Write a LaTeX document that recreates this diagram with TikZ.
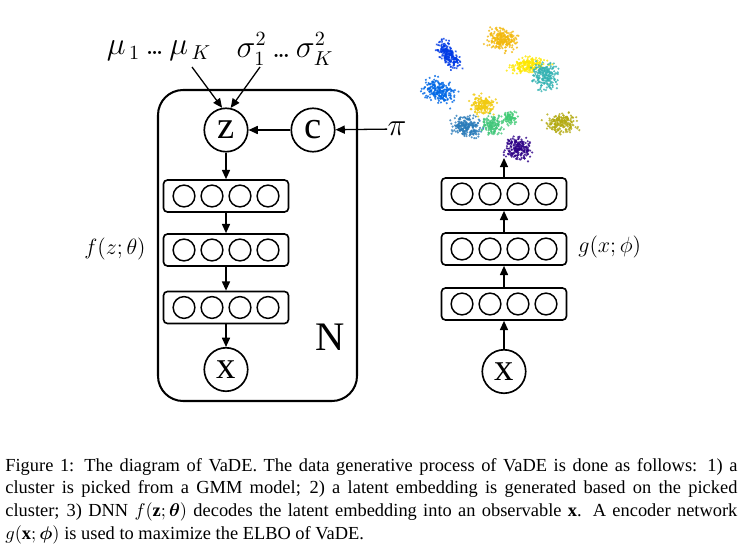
\documentclass[tikz,border=0pt]{standalone}
\usepackage{amsmath}
\usepackage{fontspec}
\setmainfont{Liberation Serif}
\usetikzlibrary{arrows.meta}
\usetikzlibrary{positioning}

\tikzset{
  var/.style={draw, circle, line width=0.9pt, minimum size=23.6pt, inner sep=0pt, font=\fontsize{21}{24}\selectfont},
  layerbox/.style={draw, rectangle, rounded corners=2.2pt, line width=0.9pt, minimum width=67.9pt, minimum height=17.4pt, inner sep=0pt},
  unit/.style={line width=0.8pt},
  arr/.style={-{Triangle[length=5pt,width=4.4pt]}, line width=0.7pt},
  plate/.style={line width=1.1pt, rounded corners=13.6pt},
  big/.style={font=\fontsize{16}{20}\selectfont, inner sep=0pt},
  fn/.style={font=\fontsize{12.5}{15}\selectfont, inner sep=0pt}
}

% three close dots
\newcommand{\dts}{\mathord{.\mkern-2mu.\mkern-2mu.}}

% one layer of four units
\newcommand{\nnlayer}[3]{%
  \node[layerbox] (#1) at (#2,#3) {};
  \foreach \u in {-1.5,-0.5,0.5,1.5}
    \draw[unit] ([xshift=\u*15.2pt]#1.center) circle (5.9pt);
}

% one cluster of the embedding
\newcommand{\blob}[7]{%
  \begin{scope}[shift={(#1,#2)}, rotate=#5]
    \foreach \k in {1,...,#7}
      \fill[#6, opacity=0.8] ({#3*(rand+rand+rand)/2}, {#4*(rand+rand+rand)/2}) circle (0.65pt);
  \end{scope}
}

\begin{document}
\begin{tikzpicture}[x=0.543pt, y=-0.543pt]
\useasboundingbox (0,0) rectangle (754,547);

%generative side
\draw[plate] (158,90) rectangle (357,401);
\node[big] (mu) at (159,51) {$\mu_{\,1}\,\dts\,\mu_{\,K}$};
\node[big] (sigma) at (285,49) {$\sigma_1^2\,\dts\,\sigma_K^2$};
\coordinate (muend) at (192,67);
\coordinate (sigend) at (260,67);
\node[var] (z) at (226,130) {z};
\node[var] (c) at (313,130) {c};
\node[big] (pi) at (397,129) {$\pi$};

\nnlayer{h1}{226}{196}
\nnlayer{h2}{226}{250}
\nnlayer{h3}{226}{307.5}
\node[var] (xd) at (226,369.5) {x};

\draw[arr] (muend) -- (z.100);
\draw[arr] (sigend) -- (z.78);
\draw[arr] (pi) -- (c);
\draw[arr] (c) -- (z);
\draw[arr] (z) -- (h1);
\draw[arr] (h1) -- (h2);
\draw[arr] (h2) -- (h3);
\draw[arr] (h3) -- (xd);

%labels
\node[fn, anchor=east] (f) at (146,249) {$f(z;\theta)$};
\node[font=\fontsize{22}{26}\selectfont, inner sep=0pt] (N) at (330,337) {N};

%encoder side
\node[var] (xe) at (504,371.5) {x};
\nnlayer{e1}{504}{304}
\nnlayer{e2}{504}{249}
\nnlayer{e3}{504}{194}
\coordinate (emb) at (504,158);

\draw[arr] (xe) -- (e1);
\draw[arr] (e1) -- (e2);
\draw[arr] (e2) -- (e3);
\draw[arr] (e3) -- (emb);

\node[fn, anchor=west] (g) at (578,247) {$g(x;\phi)$};

%embedding
\pgfmathsetseed{7}
\blob{449}{55}{16}{7}{-50}{blue!75!cyan!90!black}{230}
\blob{502}{40}{14}{10}{-10}{orange!45!yellow!80!brown}{230}
\blob{528}{65}{18}{7}{8}{yellow!90!orange}{200}
\blob{545}{76}{11}{13}{0}{teal!75!cyan!80!white}{220}
\blob{439}{91}{15}{10}{-20}{blue!55!cyan!90!black}{220}
\blob{483}{105}{11}{9}{0}{yellow!70!orange!95!black}{170}
\blob{467}{127}{14}{10}{-10}{cyan!65!blue!85!black}{220}
\blob{492}{125}{10}{9}{0}{teal!60!green!75!white}{140}
\blob{510}{118}{7}{6}{0}{green!45!teal!75!white}{80}
\blob{561}{123}{14}{9}{10}{olive!75!yellow!90!white}{200}
\blob{518}{148}{13}{10}{0}{blue!50!violet!70!black}{200}

%caption
\node[anchor=north west, inner sep=0pt, text width=397.5pt, align=justify, font=\fontsize{10}{12.3}\selectfont] (cap) at (5,458) {Figure 1: The diagram of VaDE. The data generative process of VaDE is done as follows: 1) a\linebreak cluster is picked from a GMM model; 2) a latent embedding is generated based on the picked\linebreak cluster; 3) DNN $f(\mathbf{z};\boldsymbol{\theta})$ decodes the latent embedding into an observable $\mathbf{x}$. A encoder network\linebreak $g(\mathbf{x};\boldsymbol{\phi})$ is used to maximize the ELBO of VaDE.};

\end{tikzpicture}
\end{document}
